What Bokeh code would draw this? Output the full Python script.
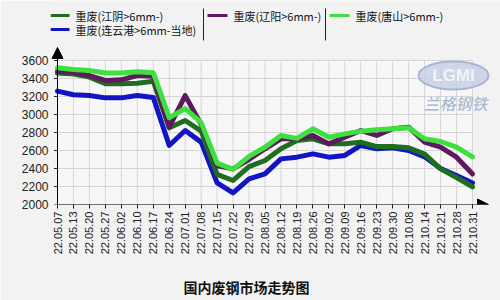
from bokeh.plotting import figure
from bokeh.models import Range1d, FixedTicker, Label, Arrow, NormalHead, Title
from bokeh.core.properties import value
from bokeh.embed import file_html
from bokeh.resources import INLINE

dates = ["22.05.07", "22.05.13", "22.05.20", "22.05.27", "22.06.02", "22.06.10",
         "22.06.17", "22.06.24", "22.07.01", "22.07.08", "22.07.15", "22.07.22",
         "22.07.29", "22.08.05", "22.08.12", "22.08.19", "22.08.26", "22.09.02",
         "22.09.09", "22.09.16", "22.09.23", "22.09.30", "22.10.08", "22.10.14",
         "22.10.21", "22.10.28", "22.10.31"]

tangshan = [3520, 3500, 3489, 3462, 3460, 3475, 3465, 2965, 3065, 2910, 2460, 2390,
            2535, 2637, 2767, 2735, 2841, 2748, 2785, 2815, 2830, 2841, 2852, 2730,
            2700, 2637, 2530]
liaoyang = [3480, 3470, 3433, 3378, 3385, 3433, 3425, 2860, 3210, 2890, 2430, 2396,
            2500, 2619, 2730, 2730, 2767, 2674, 2748, 2822, 2767, 2841, 2859, 2693,
            2637, 2526, 2340]
jiangyin = [3460, 3450, 3415, 3341, 3341, 3348, 3370, 2852, 2933, 2815, 2335, 2267,
            2420, 2489, 2619, 2711, 2730, 2674, 2674, 2693, 2644, 2644, 2630, 2560,
            2396, 2300, 2195]
lianyungang = [3260, 3219, 3211, 3185, 3185, 3211, 3190, 2656, 2822, 2693, 2240, 2128,
               2285, 2341, 2507, 2526, 2563, 2526, 2545, 2656, 2619, 2630, 2600, 2530,
               2400, 2322, 2240]

y_ticks = [2000, 2200, 2400, 2600, 2800, 3000, 3200, 3400, 3600]

names = ["重废(江阴>6mm-)", "重废(连云港>6mm-当地)", "重废(辽阳>6mm-)", "重废(唐山>6mm-)"]
title_text = "国内废钢市场走势图"

C_DG = "#1f6e1f"
C_BL = "#1414c4"
C_PU = "#5e1a5e"
C_LG = "#3ee03e"

# layout geometry (pixels)
W, H = 500, 300
FL, FR, FT, FB = 50, 0, 0, 96          # frame borders
AX0 = 57                                # pixel of first category / y axis
PX_X = 415.0 / 26.0
PX_Y = 144.0 / 1600.0

def dx(px):
    return (px - AX0) / PX_X

def dy(py):
    return 3600 - (py - 60) / PX_Y

font = "Noto Sans CJK SC"

p = figure(width=W, height=H, output_backend="svg", toolbar_location=None,
           x_range=Range1d(dx(FL), dx(W - FR)), y_range=Range1d(2000, dy(FT)),
           min_border_left=FL, min_border_right=FR, min_border_top=FT,
           min_border_bottom=FB)
p.border_fill_color = "#f2f2f2"
p.background_fill_color = "#f2f2f2"
p.outline_line_color = None
p.xgrid.visible = False
p.ygrid.visible = False

idx = list(range(len(dates)))

# plot-area background and grid
p.quad(left=[0], right=[idx[-1]], bottom=[y_ticks[0]], top=[y_ticks[-1]],
       fill_color="#f7f7f7", line_color=None)
p.multi_line([[i, i] for i in idx], [[y_ticks[0], y_ticks[-1]] for _ in idx],
             line_color="#d6d6d6", line_width=1)
p.multi_line([[0, idx[-1]] for _ in y_ticks], [[v, v] for v in y_ticks],
             line_color="#d6d6d6", line_width=1)

# x axis
p.xaxis.ticker = FixedTicker(ticks=idx)
p.xaxis.major_label_overrides = {i: d for i, d in enumerate(dates)}
p.xaxis.major_label_orientation = 3.14159265 / 2
p.xaxis.major_label_text_font = "Liberation Sans"
p.xaxis.major_label_text_font_size = "11px"
p.xaxis.major_label_text_color = "#222222"
p.xaxis.axis_line_color = None
p.xaxis.major_tick_line_color = "#222222"
p.xaxis.major_tick_out = 4
p.xaxis.major_tick_in = 0
p.xaxis.minor_tick_line_color = None
p.xaxis.major_label_standoff = 3

# y axis (labels from Bokeh axis, tick marks next to the arrow line)
p.yaxis.ticker = FixedTicker(ticks=y_ticks)
p.yaxis.major_label_text_font = "Liberation Sans"
p.yaxis.major_label_text_font_size = "12px"
p.yaxis.major_label_text_color = "#222222"
p.yaxis.axis_line_color = None
p.yaxis.major_tick_line_color = None
p.yaxis.minor_tick_line_color = None
p.yaxis.major_label_standoff = -4
p.segment(x0=[dx(53.5)] * len(y_ticks), y0=y_ticks, x1=[0] * len(y_ticks), y1=y_ticks,
          line_color="#222222", line_width=1)

p.add_layout(Arrow(x_start=0, y_start=2000, x_end=dx(488), y_end=2000, line_color="black",
                   line_width=1, end=NormalHead(size=11, fill_color="black", line_color="black")))
p.add_layout(Arrow(x_start=0, y_start=2000, x_end=0, y_end=dy(47), line_color="black",
                   line_width=1, end=NormalHead(size=11, fill_color="black", line_color="black")))

# watermark
p.ellipse(x=[dx(453)], y=[dy(75)], width=70, height=28, width_units="screen",
          height_units="screen", fill_color="#c4cde2", fill_alpha=0.8,
          line_color="#a9b6d3", line_width=2)
p.add_layout(Label(x=dx(453), y=dy(75), text="LGMI", text_align="center",
                   text_baseline="middle", text_font="Liberation Sans",
                   text_font_size="17px", text_font_style="bold", text_color="#f4f4f8"))
p.add_layout(Label(x=dx(455), y=dy(102), text="兰格钢铁", text_align="center",
                   text_baseline="middle", text_font=font, text_font_size="16px",
                   text_font_style="italic", text_color="#9fb2d0"))

# series
lw = 5
p.line(idx, lianyungang, line_color=C_BL, line_width=lw, line_join="round", line_cap="round")
p.line(idx, jiangyin, line_color=C_DG, line_width=lw, line_join="round", line_cap="round")
p.line(idx, liaoyang, line_color=C_PU, line_width=lw, line_join="round", line_cap="round")
p.line(idx, tangshan, line_color=C_LG, line_width=lw, line_join="round", line_cap="round")

# legend (drawn in the top band of the frame)
leg_x0 = [50, 50, 207, 329]
leg_x1 = [69, 69, 227, 349]
leg_y = [15, 29, 15, 15]
leg_c = [C_DG, C_BL, C_PU, C_LG]
p.segment(x0=[dx(v) for v in leg_x0], y0=[dy(v) for v in leg_y],
          x1=[dx(v) for v in leg_x1], y1=[dy(v) for v in leg_y],
          line_color=leg_c, line_width=3)
p.text(x=[dx(v + 6) for v in leg_x1], y=[dy(v) for v in leg_y], text=names,
       text_baseline="middle", text_font=value(font), text_font_size="11px",
       text_color="#111111")
p.segment(x0=[dx(203), dx(325)], y0=[dy(8), dy(8)], x1=[dx(203), dx(325)],
          y1=[dy(40), dy(40)], line_color="#222222", line_width=1)

# spacer + title below the axis
p.add_layout(Title(text=" ", text_font_size="2px", standoff=9), "below")
p.add_layout(Title(text=title_text, align="left", offset=133, standoff=8,
                   text_font=font, text_font_size="14px", text_font_style="bold",
                   text_color="#111111"), "below")

open("out.html", "w").write(file_html(p, INLINE))
